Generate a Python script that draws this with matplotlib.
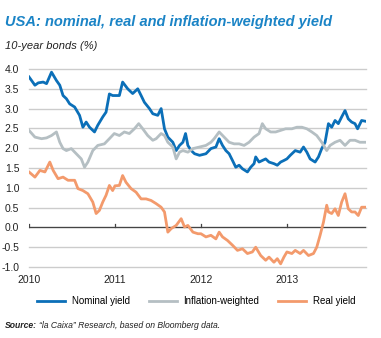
import matplotlib
matplotlib.use("Agg")
import matplotlib.pyplot as plt
import numpy as np

plt.rcParams["font.family"] = ["Liberation Sans", "DejaVu Sans"]

# series (decimal years, %)
nom_x = [2010.000, 2010.069, 2010.108, 2010.165, 2010.204, 2010.262, 2010.319, 2010.358, 2010.396,
         2010.435, 2010.473, 2010.531, 2010.588, 2010.627, 2010.665, 2010.704, 2010.762, 2010.800,
         2010.858, 2010.896, 2010.935, 2010.973,
         2011.051, 2011.089, 2011.148, 2011.206, 2011.265, 2011.304, 2011.342, 2011.401, 2011.440,
         2011.498, 2011.537, 2011.576, 2011.615, 2011.673, 2011.712, 2011.751, 2011.790, 2011.821,
         2011.848, 2011.887, 2011.926, 2011.984,
         2012.058, 2012.116, 2012.174, 2012.212, 2012.251, 2012.290, 2012.328, 2012.367, 2012.405,
         2012.444, 2012.483, 2012.541, 2012.579, 2012.618, 2012.637, 2012.676, 2012.714, 2012.753,
         2012.792, 2012.849, 2012.888, 2012.927, 2012.965,
         2013.000, 2013.039, 2013.097, 2013.154, 2013.193, 2013.232, 2013.270, 2013.328, 2013.367,
         2013.405, 2013.444, 2013.483, 2013.521, 2013.560, 2013.598, 2013.637, 2013.676, 2013.714,
         2013.753, 2013.792, 2013.822, 2013.869, 2013.915]
nom_y = [3.80, 3.59, 3.65, 3.67, 3.63, 3.92, 3.71, 3.59, 3.33,
         3.25, 3.12, 3.04, 2.83, 2.53, 2.66, 2.53, 2.41, 2.58,
         2.79, 2.91, 3.37, 3.33,
         3.33, 3.67, 3.50, 3.38, 3.50, 3.33, 3.16, 3.00, 2.87,
         2.83, 3.00, 2.49, 2.28, 2.15, 1.94, 2.07, 2.15, 2.37,
         2.07, 1.94, 1.86, 1.82,
         1.86, 1.99, 2.03, 2.24, 2.07, 1.94, 1.86, 1.69, 1.52,
         1.57, 1.48, 1.40, 1.52, 1.61, 1.78, 1.65, 1.69, 1.73,
         1.65, 1.61, 1.57, 1.65, 1.69,
         1.73, 1.82, 1.94, 1.90, 2.03, 1.90, 1.73, 1.65, 1.78,
         1.99, 2.15, 2.62, 2.53, 2.70, 2.62, 2.79, 2.95, 2.74,
         2.66, 2.62, 2.49, 2.70, 2.68]

inf_x = [2010.000, 2010.069, 2010.146, 2010.204, 2010.262, 2010.319, 2010.358, 2010.396, 2010.435,
         2010.492, 2010.550, 2010.608, 2010.646, 2010.685, 2010.742, 2010.800, 2010.877, 2010.935,
         2010.992,
         2011.051, 2011.109, 2011.167, 2011.226, 2011.276, 2011.323, 2011.381, 2011.440, 2011.479,
         2011.537, 2011.576, 2011.615, 2011.673, 2011.712, 2011.751, 2011.790, 2011.848, 2011.907,
         2011.984,
         2012.058, 2012.116, 2012.154, 2012.212, 2012.270, 2012.328, 2012.386, 2012.444, 2012.502,
         2012.560, 2012.618, 2012.676, 2012.714, 2012.753, 2012.811, 2012.869, 2012.927, 2012.985,
         2013.058, 2013.116, 2013.174, 2013.232, 2013.290, 2013.347, 2013.405, 2013.463, 2013.502,
         2013.560, 2013.618, 2013.676, 2013.734, 2013.792, 2013.849, 2013.915]
inf_y = [2.45, 2.28, 2.24, 2.26, 2.32, 2.41, 2.15, 1.99, 1.94,
         1.99, 1.86, 1.73, 1.52, 1.65, 1.94, 2.07, 2.11, 2.24,
         2.37,
         2.32, 2.41, 2.37, 2.49, 2.62, 2.49, 2.32, 2.20, 2.24,
         2.37, 2.32, 2.15, 2.03, 1.73, 1.90, 1.94, 1.90, 1.99,
         2.03,
         2.07, 2.15, 2.24, 2.41, 2.28, 2.15, 2.11, 2.11, 2.07,
         2.15, 2.28, 2.37, 2.62, 2.49, 2.41, 2.41, 2.45, 2.49,
         2.49, 2.53, 2.53, 2.49, 2.41, 2.32, 2.15, 1.94, 2.07,
         2.15, 2.20, 2.07, 2.20, 2.20, 2.15, 2.15]

real_x = [2010.000, 2010.069, 2010.127, 2010.185, 2010.242, 2010.281, 2010.338, 2010.396, 2010.454,
          2010.531, 2010.569, 2010.627, 2010.685, 2010.742, 2010.781, 2010.819, 2010.858, 2010.896,
          2010.935, 2010.973,
          2011.000, 2011.051, 2011.089, 2011.128, 2011.187, 2011.245, 2011.304, 2011.362, 2011.420,
          2011.479, 2011.537, 2011.576, 2011.615, 2011.654, 2011.712, 2011.770, 2011.809, 2011.848,
          2011.907, 2011.965,
          2012.000, 2012.058, 2012.116, 2012.174, 2012.212, 2012.251, 2012.309, 2012.367, 2012.425,
          2012.483, 2012.541, 2012.598, 2012.637, 2012.695, 2012.753, 2012.792, 2012.849, 2012.888,
          2012.927, 2012.965,
          2013.000, 2013.058, 2013.097, 2013.154, 2013.193, 2013.251, 2013.309, 2013.347, 2013.386,
          2013.425, 2013.463, 2013.483, 2013.521, 2013.560, 2013.598, 2013.637, 2013.676, 2013.714,
          2013.753, 2013.792, 2013.830, 2013.869, 2013.915]
real_y = [1.40, 1.27, 1.44, 1.40, 1.65, 1.44, 1.23, 1.27, 1.19,
          1.19, 0.98, 0.93, 0.85, 0.64, 0.35, 0.43, 0.64, 0.81,
          1.06, 0.93,
          1.05, 1.06, 1.31, 1.14, 0.98, 0.89, 0.72, 0.72, 0.68,
          0.60, 0.51, 0.39, -0.12, -0.03, 0.05, 0.22, 0.01, 0.05,
          -0.12, -0.16,
          -0.16, -0.24, -0.20, -0.29, -0.12, -0.24, -0.33, -0.45, -0.58,
          -0.54, -0.66, -0.62, -0.50, -0.71, -0.83, -0.75, -0.88, -0.79,
          -0.92, -0.75,
          -0.62, -0.66, -0.58, -0.66, -0.58, -0.71, -0.66, -0.50, -0.20,
          0.13, 0.56, 0.39, 0.35, 0.47, 0.30, 0.64, 0.85, 0.47,
          0.39, 0.39, 0.30, 0.51, 0.51]

years = [2010, 2011, 2012, 2013]
yticks = [4.0, 3.5, 3.0, 2.5, 2.0, 1.5, 1.0, 0.5, 0.0, -0.5, -1.0]

blue = "#0b6fb8"
grey = "#b5bfc3"
orange = "#f39a6c"

W, H = 381, 338
fig = plt.figure(figsize=(W / 100, H / 100), dpi=100)
ax = fig.add_axes([29 / W, 71 / H, 337 / W, 198 / H])

ax.plot(nom_x, nom_y, color=blue, lw=2.0, label="Nominal yield", solid_joinstyle="round")
ax.plot(inf_x, inf_y, color=grey, lw=2.0, label="Inflation-weighted", solid_joinstyle="round")
ax.plot(real_x, real_y, color=orange, lw=2.0, label="Real yield", solid_joinstyle="round")

ax.set_xlim(2010, 2013.92)
ax.set_ylim(-1.0, 4.0)
for s in ax.spines.values():
    s.set_visible(False)
ax.set_yticks(yticks)
ax.set_yticklabels(["%.1f" % v for v in yticks])
ax.set_xticks(years)
ax.set_xticklabels([str(y) for y in years])
ax.tick_params(length=0, labelsize=7.5, colors="#222222")
ax.tick_params(axis="y", pad=7)
ax.tick_params(axis="x", pad=6)
ax.grid(axis="y", color="#cccccc", lw=1.0)
ax.set_axisbelow(True)
for gl in ax.get_ygridlines():
    gl.set_clip_on(False)
ax.axhline(0, color="#444444", lw=0.9, zorder=1)
for y in years:
    ax.plot([y, y], [0, 0.08], color="#444444", lw=0.9, zorder=1)

fig.legend(loc="center", bbox_to_anchor=(0.515, 1 - 301 / H), ncol=3, frameon=False,
           fontsize=7, handlelength=2.9, handletextpad=0.7, columnspacing=1.9)

fig.text(5 / W, 1 - 22 / H, "USA: nominal, real and inflation-weighted yield", color="#1b84c6",
         fontsize=10.5, fontweight="bold", style="italic", va="center")
fig.text(5 / W, 1 - 46 / H, "10-year bonds (%)", fontsize=8, style="italic", va="center",
         color="#222222")

t1 = fig.text(5 / W, 1 - 325 / H, "Source:", fontsize=6.2, fontweight="bold", style="italic",
              va="center", color="#222222")
r = fig.canvas.get_renderer()
bb = t1.get_window_extent(renderer=r)
fig.text(bb.x1 / W + 2 / W, 1 - 325 / H, "\u201cla Caixa\u201d Research, based on Bloomberg data.",
         fontsize=6.2, style="italic", va="center", color="#222222")

fig.savefig("out.png", dpi=100)
